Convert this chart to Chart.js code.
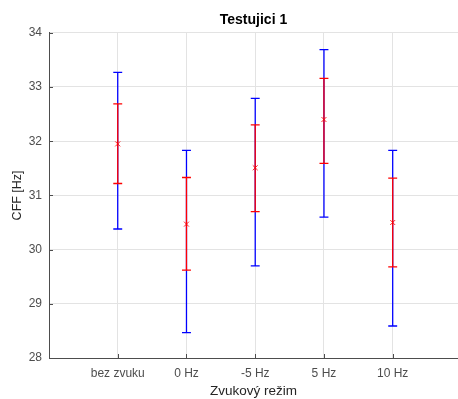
<!DOCTYPE html>
<html>
<head>
<meta charset="utf-8">
<script src="https://cdn.jsdelivr.net/npm/chart.js@4"></script>
<style>
  html, body { margin: 0; padding: 0; background: #fff; }
  #plot { display: block; }
</style>
</head>
<body>
<canvas id="plot" width="458" height="399"></canvas>
<script>
const categories = ['bez zvuku', '0 Hz', '-5 Hz', '5 Hz', '10 Hz'];
const means = [31.95, 30.47, 31.51, 32.40, 30.50];
const redLow = [31.22, 29.62, 30.70, 31.59, 29.68];
const redHigh = [32.69, 31.33, 32.30, 33.16, 31.32];
const blueLow = [30.38, 28.47, 29.70, 30.60, 28.59];
const blueHigh = [33.27, 31.83, 32.79, 33.69, 31.83];
const yTicks = [28, 29, 30, 31, 32, 33, 34];

const font = "'Liberation Sans', Arial, Helvetica, sans-serif";
const capHalf = 0.065;

// vertical bar plus two caps, separated by gaps
const barSegments = (lows, highs) => {
    const pts = [];
    lows.forEach((lo, i) => {
        const x = i + 1;
        const hi = highs[i];
        pts.push({x: x, y: lo}, {x: x, y: hi}, {x: x, y: null});
        pts.push({x: x - capHalf, y: hi}, {x: x + capHalf, y: hi}, {x: x, y: null});
        pts.push({x: x - capHalf, y: lo}, {x: x + capHalf, y: lo}, {x: x, y: null});
    });
    return pts;
};

// MATLAB-like inward ticks
const inwardTicks = {
    id: 'inwardTicks',
    afterDatasetsDraw(chart) {
        const {ctx, chartArea, scales} = chart;
        ctx.save();
        ctx.strokeStyle = '#4d4d4d';
        ctx.lineWidth = 1;
        ctx.beginPath();
        scales.y.ticks.forEach(t => {
            const y = Math.round(scales.y.getPixelForValue(t.value)) + 0.5;
            ctx.moveTo(chartArea.left, y);
            ctx.lineTo(chartArea.left + 4, y);
        });
        scales.x.ticks.forEach(t => {
            const x = Math.round(scales.x.getPixelForValue(t.value)) + 0.5;
            ctx.moveTo(x, chartArea.bottom);
            ctx.lineTo(x, chartArea.bottom - 4);
        });
        ctx.stroke();
        ctx.restore();
    }
};

const ctx = document.getElementById('plot').getContext('2d');
const chart = new Chart(ctx, {
    type: 'line',
    data: {
        datasets: [
            {
                data: barSegments(blueLow, blueHigh),
                order: 3,
                borderColor: '#0000ff',
                borderWidth: 1.3,
                pointRadius: 0,
                spanGaps: false
            },
            {
                data: barSegments(redLow, redHigh),
                order: 2,
                borderColor: '#ff0000',
                borderWidth: 1.3,
                pointRadius: 0,
                spanGaps: false
            },
            {
                data: means.map((m, i) => ({x: i + 1, y: m})),
                order: 1,
                showLine: false,
                pointStyle: 'crossRot',
                pointRadius: 3.5,
                pointBorderWidth: 1,
                borderColor: 'rgba(255, 0, 0, 0.85)',
                backgroundColor: 'rgba(255, 0, 0, 0.85)'
            }
        ]
    },
    options: {
        responsive: false,
        animation: false,
        layout: { autoPadding: false, padding: 0 },
        plugins: {
            legend: { display: false },
            tooltip: { enabled: false },
            title: {
                display: true,
                text: 'Testujici 1',
                fullSize: false,
                color: '#000',
                font: { family: font, size: 14, weight: 'bold' },
                padding: { top: 12, bottom: 4 }
            }
        },
        scales: {
            x: {
                type: 'linear',
                min: 0,
                max: 5.95,
                afterBuildTicks: (scale) => {
                    scale.ticks = categories.map((c, i) => ({value: i + 1}));
                },
                afterFit: (scale) => { scale.height = 41; },
                ticks: {
                    callback: (v) => categories[v - 1],
                    color: '#4d4d4d',
                    font: { family: font, size: 12 },
                    padding: 8,
                    maxRotation: 0
                },
                grid: { color: '#e3e3e3', drawTicks: false },
                border: { color: '#4d4d4d' },
                title: {
                    display: true,
                    text: 'Zvukový režim',
                    color: '#262626',
                    font: { family: font, size: 13.5 },
                    padding: { top: 0, bottom: 0 }
                }
            },
            y: {
                min: 28,
                max: 34,
                afterBuildTicks: (scale) => {
                    scale.ticks = yTicks.map(v => ({value: v}));
                },
                afterFit: (scale) => { scale.width = 49; },
                ticks: {
                    color: '#4d4d4d',
                    font: { family: font, size: 12 },
                    padding: 7
                },
                grid: { color: '#e3e3e3', drawTicks: false },
                border: { color: '#4d4d4d' },
                title: {
                    display: true,
                    text: 'CFF [Hz]',
                    color: '#262626',
                    font: { family: font, size: 12.5 },
                    padding: { top: 10, bottom: 0 }
                }
            }
        }
    },
    plugins: [inwardTicks]
});
</script>
</body>
</html>
